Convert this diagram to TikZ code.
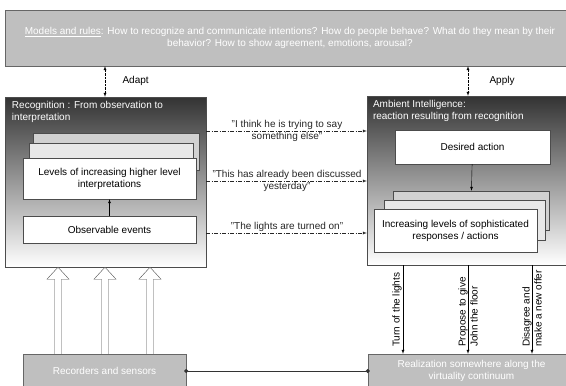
\documentclass[tikz,border=0pt]{standalone}
\usepackage{fontspec}
\setmainfont{Liberation Sans}
\usetikzlibrary{positioning,arrows.meta}

\begin{document}
\begin{tikzpicture}[x=1pt,y=-1pt,font=\fontsize{10}{12}\selectfont,
	box/.style={draw=black!70,fill=white,minimum width=173pt,minimum height=41pt,align=center,inner sep=2pt},
	gbox/.style={draw=black!60,fill=black!25,text=white,align=center,inner sep=2pt},
	big/.style={draw=black!70,top color=black!80,bottom color=white,inner sep=0pt},
	ttl/.style={anchor=north west,text=white,align=left,inner sep=0pt},
	quote/.style={-latex,black!85,dash pattern=on 4pt off 1.5pt on 1pt off 1.5pt},
	hollow/.style={draw=black!70,fill=white,line join=miter},
	vlab/.style={rotate=90,align=left,inner sep=1pt}]
	\clip (0,0) rectangle (566,386);
	
	\node[gbox,minimum width=570pt,minimum height=56pt] (mod) at (290,38) {\underline{Models and rules}: How to recognize and communicate intentions? How do people behave? What do they mean by their\\behavior? How to show agreement, emotions, arousal?};
	
	% recognition side
	\node[big,minimum width=201pt,minimum height=170pt] (rec) at (105.5,182) {};
	\node[ttl] (rt) at ([xshift=7pt,yshift=-4pt]rec.north west) {Recognition : From observation to\\interpretation};
	\node[box,fill=black!18,minimum width=166pt,minimum height=37pt] (l3) at (116,151.5) {};
	\node[box,fill=black!9,minimum width=164pt,minimum height=38pt] (l2) at (111,162) {};
	\node[box] (l1) at (109.5,178.5) {Levels of increasing higher level\\interpretations};
	\node[box,minimum height=27pt] (obs) [below=17pt of l1] {Observable events};
	\draw[-latex] (obs) -- (l1);
	
	% ambient intelligence side
	\node[big,minimum width=208pt,minimum height=169pt] (amb) at (471,180.5) {};
	\node[ttl] (at) at ([xshift=6pt,yshift=-4pt]amb.north west) {Ambient Intelligence:\\reaction resulting from recognition};
	\node[box,minimum width=155pt,minimum height=34pt] (des) at (472.5,147) {Desired action};
	\node[box,fill=black!18,minimum width=156pt,minimum height=39pt] (s3) at (471,210.5) {};
	\node[box,fill=black!9,minimum width=161pt,minimum height=40pt] (s2) at (464.5,220) {};
	\node[box,minimum width=163pt,minimum height=43pt] (s1) at (455.5,230.5) {Increasing levels of sophisticated\\responses / actions};
	\draw[-latex] (des) -- (s3);
	
	% adapt / apply
	\node[anchor=west] (ad) at (119,81) {Adapt};
	\node[anchor=west] (ap) at (486,81) {Apply};
	\draw[latex-latex,densely dotted] ([xshift=-14pt]ad.west |- mod.south) -- ([xshift=-14pt]ad.west |- rec.north);
	\draw[latex-latex,densely dotted] ([xshift=-18pt]ap.west |- mod.south) -- ([xshift=-18pt]ap.west |- amb.north);
	
	% quotes
	\node[align=center,text=black!85] (q1) at (287,131) {"I think he is trying to say\\something else"};
	\node[align=center,text=black!85] (q2) at (287,181) {"This has already been discussed\\yesterday"};
	\node[anchor=south,text=black!85,inner sep=1pt] (q3) at (287,233) {"The lights are turned on"};
	\draw[quote] (rec.east |- q1) -- (amb.west |- q1);
	\draw[quote] (rec.east |- q2) -- (amb.west |- q2);
	\draw[quote] (rec.east |- q3.south) -- (amb.west |- q3.south);
	
	% bottom
	\node[gbox,minimum width=163pt,minimum height=34pt] (sen) at (104.5,371) {Recorders and sensors};
	\node[gbox,minimum width=207pt,minimum height=34pt] (rea) at (471.5,371) {Realization somewhere along the\\virtuality continuum};
	\draw[{Circle[length=4pt]}-{Circle[length=4pt]},black!80,shorten <=-2pt,shorten >=-2pt] (sen) -- (rea);
	\foreach \x [count=\i] in {58,105,150} {
		\coordinate (h\i) at (\x,300);
		\draw[hollow] ([xshift=-3.5pt]h\i |- sen.north) -- ([xshift=-3.5pt,yshift=-12pt]h\i |- rec.south)
			-- ([xshift=-11pt,yshift=-12pt]h\i |- rec.south) -- (h\i |- rec.south)
			-- ([xshift=11pt,yshift=-12pt]h\i |- rec.south) -- ([xshift=3.5pt,yshift=-12pt]h\i |- rec.south)
			-- ([xshift=3.5pt]h\i |- sen.north);
	}
	
	\node[vlab,anchor=south west] (t1) at (403,348) {Turn of the lights};
	\node[vlab,anchor=west] (t2) at (468,348) {Propose to give\\John the floor};
	\node[vlab,anchor=west] (t3) at (532,348) {Disagree and\\make a new offer};
	\draw[-latex] (t1.south west |- amb.south) -- (t1.south west |- rea.north);
	\draw[-latex] (t2.west |- amb.south) -- (t2.west |- rea.north);
	\draw[-latex] (t3.west |- amb.south) -- (t3.west |- rea.north);
\end{tikzpicture}
\end{document}
